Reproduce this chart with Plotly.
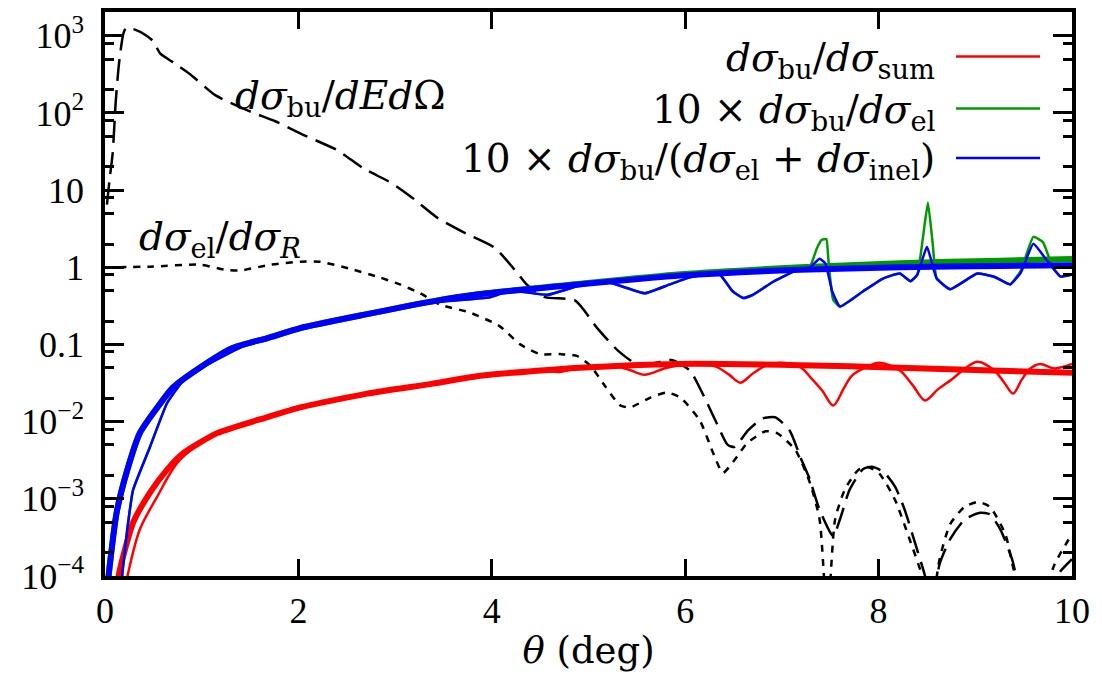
import plotly.graph_objects as go

# ---- breakup cross section dsigma_bu/dE dOmega (dashed) ----
theta_bu = [0.02, 0.05, 0.08, 0.11, 0.145, 0.19, 0.22, 0.31, 0.41, 0.50, 0.57, 0.72, 0.88,
            1.14, 1.48, 1.76, 2.05, 2.40, 2.67, 2.97, 3.17, 3.44, 3.74, 4.03, 4.26, 4.36,
            4.55, 4.86, 5.09, 5.31, 5.53, 5.86, 6.05, 6.18, 6.31, 6.44, 6.51, 6.65, 6.80,
            6.93, 7.08, 7.19, 7.29, 7.39, 7.53, 7.60, 7.70, 7.84, 7.93, 8.05, 8.17, 8.27,
            8.38, 8.48, 8.55, 8.63, 8.74, 8.89, 9.05, 9.15, 9.26, 9.38, 9.46, 9.62, 9.77,
            9.88, 10.0]
dsig_bu = [6.5, 14.7, 30.7, 135, 440, 1070, 1280, 1200, 1040, 850, 590, 440, 318,
           170, 107, 78, 52, 33, 19.2, 12.2, 8.1, 4.36, 2.71, 1.79, 0.855, 0.60,
           0.41, 0.373, 0.163, 0.082, 0.053, 0.063, 0.0457, 0.0231, 0.0105, 0.0050, 0.0047,
           0.0077, 0.0110, 0.0114, 0.0077, 0.0035, 0.00176, 0.00072, 0.00033, 0.00054,
           0.00131, 0.00244, 0.0026, 0.00224, 0.00144, 0.00072, 0.00026, 0.00010, 3.5e-5,
           0.000142, 0.00030, 0.00054, 0.00066, 0.00063, 0.00040, 0.000165, 6.8e-5, 3.0e-5,
           6.8e-5, 0.000115, 0.000165]

# ---- elastic / Rutherford ratio (dotted) ----
theta_el = [0.0, 0.47, 0.98, 1.24, 1.40, 1.71, 2.02, 2.22, 2.53, 2.84, 3.05, 3.26, 3.46,
            3.77, 4.08, 4.29, 4.50, 4.71, 4.88, 5.02, 5.17, 5.33, 5.43, 5.64, 5.81, 5.95,
            6.15, 6.29, 6.39, 6.51, 6.64, 6.83, 6.95, 7.14, 7.29, 7.39, 7.47, 7.55, 7.65,
            7.79, 7.89, 8.01, 8.17, 8.32, 8.45, 8.53, 8.63, 8.74, 8.89, 9.03, 9.15, 9.31,
            9.41, 9.62, 9.82, 10.0]
ratio_el = [1.00, 1.02, 1.08, 0.93, 0.91, 1.08, 1.18, 1.18, 0.96, 0.74, 0.60, 0.46, 0.33,
            0.26, 0.173, 0.101, 0.075, 0.075, 0.071, 0.053, 0.029, 0.0162, 0.0153, 0.0205,
            0.0238, 0.0205, 0.0104, 0.0039, 0.00217, 0.00318, 0.00526, 0.0075, 0.0071,
            0.00428, 0.00161, 0.00054, 2.8e-5, 0.00054, 0.00131, 0.00237, 0.00259, 0.0021,
            0.00097, 0.0003, 0.0001, 2.8e-5, 0.000164, 0.00047, 0.00079, 0.00091, 0.00079,
            0.00035, 0.000106, 2.8e-5, 0.000142, 0.00035]

# ---- dsigma_bu/dsigma_sum (red) ----
theta_sum_s = [0.11, 0.155, 0.29, 0.465, 0.64, 0.81, 1.16, 1.675, 2.02, 2.71, 3.39, 3.88,
               4.91, 5.95, 7.19, 8.22, 9.26, 10.0]
ratio_sum_s = [6e-5, 1.23e-4, 4.9e-4, 1.2e-3, 2.37e-3, 3.9e-3, 7.1e-3, 0.0114, 0.0153,
               0.0231, 0.0311, 0.0394, 0.050, 0.056, 0.054, 0.050, 0.0457, 0.043]
theta_sum = [0.20, 0.24, 0.36, 0.54, 0.745, 0.95, 1.16, 1.675, 2.02, 2.71, 3.39, 3.88, 4.2,
             4.5, 4.7, 4.91, 5.25, 5.42, 5.58, 5.81, 6.05, 6.31, 6.45, 6.57, 6.70, 6.83,
             6.98, 7.19, 7.30, 7.42, 7.53, 7.64, 7.72, 7.86, 8.01, 8.22, 8.35, 8.48, 8.61,
             8.74, 9.02, 9.20, 9.30, 9.39, 9.48, 9.57, 9.67, 9.82, 10.0]
ratio_sum = [6e-5, 1.1e-4, 4e-4, 1.07e-3, 2.9e-3, 4.9e-3, 7.1e-3, 0.0114, 0.0153, 0.0231,
             0.0311, 0.0394, 0.043, 0.046, 0.044, 0.050, 0.053, 0.047, 0.0405, 0.050, 0.056,
             0.052, 0.041, 0.032, 0.042, 0.053, 0.058, 0.051, 0.037, 0.025, 0.0162, 0.027,
             0.039, 0.050, 0.058, 0.046, 0.030, 0.0188, 0.026, 0.034, 0.0598, 0.0457, 0.032,
             0.0231, 0.035, 0.049, 0.056, 0.049, 0.056]

# ---- 10 x dsigma_bu/dsigma_el (green) ----
theta_bel_s = [0.02, 0.05, 0.12, 0.23, 0.36, 0.54, 0.70, 0.98, 1.32, 1.68, 2.02, 2.71,
               3.39, 3.88, 4.91, 5.95, 7.19, 8.22, 9.26, 10.0]
ratio_bel_s = [6e-5, 1.4e-4, 6.6e-4, 2.35e-3, 7.1e-3, 0.0152, 0.0275, 0.050, 0.090, 0.121,
               0.163, 0.247, 0.362, 0.45, 0.61, 0.81, 1.0, 1.13, 1.22, 1.28]
theta_bel = [0.16, 0.18, 0.23, 0.29, 0.465, 0.64, 0.80, 1.0, 1.5, 2.0, 2.7, 3.39, 3.98,
             4.19, 4.58, 4.91, 5.22, 5.58, 5.84, 6.05, 6.20, 6.36, 6.49, 6.60, 6.70, 6.91,
             7.05, 7.19, 7.29, 7.36, 7.41, 7.46, 7.48, 7.53, 7.60, 7.84, 8.05, 8.22, 8.33,
             8.40, 8.46, 8.51, 8.56, 8.60, 8.74, 9.02, 9.20, 9.36, 9.47, 9.60, 9.70, 9.80,
             9.88, 10.0]
ratio_bel = [6e-5, 1.1e-4, 4e-4, 1.3e-3, 4.7e-3, 0.0172, 0.033, 0.050, 0.105, 0.160, 0.245,
             0.35, 0.41, 0.50, 0.44, 0.58, 0.63, 0.46, 0.60, 0.74, 0.80, 0.80, 0.49, 0.40,
             0.44, 0.65, 0.80, 0.96, 1.02, 1.74, 2.26, 2.33, 1.29, 0.38, 0.31, 0.49, 0.72,
             0.83, 0.66, 0.80, 2.5, 6.9, 2.0, 0.72, 0.52, 0.83, 0.75, 0.60, 0.90, 2.48, 2.12,
             1.0, 0.76, 0.81]

# ---- 10 x dsigma_bu/(dsigma_el + dsigma_inel) (blue) ----
theta_tot_s = [0.02, 0.05, 0.12, 0.23, 0.36, 0.54, 0.70, 0.98, 1.32, 1.68, 2.02, 2.71,
               3.39, 3.88, 4.91, 5.95, 7.19, 8.22, 9.26, 10.0]
ratio_tot_s = [6e-5, 1.4e-4, 6.6e-4, 2.35e-3, 7.1e-3, 0.0152, 0.0275, 0.050, 0.090, 0.121,
               0.163, 0.247, 0.362, 0.45, 0.60, 0.78, 0.93, 1.0, 1.04, 1.06]
theta_tot = [0.16, 0.18, 0.23, 0.29, 0.465, 0.64, 0.80, 1.0, 1.5, 2.0, 2.7, 3.39, 3.98,
             4.19, 4.58, 4.91, 5.22, 5.58, 5.84, 6.05, 6.20, 6.36, 6.49, 6.60, 6.70, 6.91,
             7.05, 7.19, 7.29, 7.39, 7.45, 7.52, 7.60, 7.84, 8.05, 8.22, 8.33, 8.40, 8.50,
             8.60, 8.74, 9.02, 9.20, 9.36, 9.47, 9.60, 9.73, 9.88, 10.0]
ratio_tot = [6e-5, 1.1e-4, 4e-4, 1.3e-3, 4.7e-3, 0.0172, 0.033, 0.050, 0.105, 0.160, 0.245,
             0.35, 0.41, 0.50, 0.44, 0.58, 0.63, 0.46, 0.60, 0.74, 0.80, 0.80, 0.49, 0.40,
             0.44, 0.65, 0.80, 0.96, 1.0, 1.29, 1.12, 0.49, 0.31, 0.49, 0.72, 0.83, 0.66,
             0.80, 1.84, 0.72, 0.52, 0.83, 0.75, 0.60, 0.85, 2.02, 1.28, 0.76, 0.81]

# axis ticks
x_ticks = [0, 2, 4, 6, 8, 10]
y_ticks = [1e-4, 1e-3, 1e-2, 0.1, 1, 10, 100, 1000]
y_tick_text = ["10<sup>−4</sup>", "10<sup>−3</sup>", "10<sup>−2</sup>", "0.1", "1", "10",
               "10<sup>2</sup>", "10<sup>3</sup>"]
y_minor = [m * 10.0 ** e for e in range(-4, 4) for m in (2, 5, 8)]

TICK_FONT = "Liberation Serif"
MATH_FONT = "DejaVu Serif"
RED, GREEN, BLUE = "#ff0000", "#009900", "#0000ff"

fig = go.Figure()

fig.add_trace(go.Scatter(x=theta_el, y=ratio_el, mode="lines",
                         line=dict(color="black", width=2.5, dash="7px,7px",
                                   shape="spline", smoothing=0.6)))
fig.add_trace(go.Scatter(x=theta_bu, y=dsig_bu, mode="lines",
                         line=dict(color="black", width=2.5, dash="22px,9px",
                                   shape="spline", smoothing=0.6)))

fig.add_trace(go.Scatter(x=theta_sum_s, y=ratio_sum_s, mode="lines",
                         line=dict(color=RED, width=6, shape="spline", smoothing=0.6)))
fig.add_trace(go.Scatter(x=theta_sum, y=ratio_sum, mode="lines",
                         line=dict(color=RED, width=2.5, shape="spline", smoothing=0.9)))
fig.add_trace(go.Scatter(x=theta_bel_s, y=ratio_bel_s, mode="lines",
                         line=dict(color=GREEN, width=6, shape="spline", smoothing=0.6)))
fig.add_trace(go.Scatter(x=theta_bel, y=ratio_bel, mode="lines",
                         line=dict(color=GREEN, width=2.5, shape="spline", smoothing=0.4)))
fig.add_trace(go.Scatter(x=theta_tot_s, y=ratio_tot_s, mode="lines",
                         line=dict(color=BLUE, width=6, shape="spline", smoothing=0.6)))
fig.add_trace(go.Scatter(x=theta_tot, y=ratio_tot, mode="lines",
                         line=dict(color=BLUE, width=2.5, shape="spline", smoothing=0.4)))

# key in the upper right: label followed by a short line sample
key_rows = [
    ("<i>dσ</i><sub>bu</sub>/<i>dσ</i><sub>sum</sub>", RED, 0.921),
    ("10 × <i>dσ</i><sub>bu</sub>/<i>dσ</i><sub>el</sub>", GREEN, 0.829),
    ("10 × <i>dσ</i><sub>bu</sub>/(<i>dσ</i><sub>el</sub> + <i>dσ</i><sub>inel</sub>)", BLUE, 0.741),
]
annotations = []
shapes = []
for label, color, yk in key_rows:
    annotations.append(dict(text=label, xref="paper", yref="paper", x=0.860, y=yk - 0.006,
                            xanchor="right", yanchor="middle", showarrow=False,
                            font=dict(family=MATH_FONT, size=39, color="black")))
    shapes.append(dict(type="line", xref="paper", yref="paper", x0=0.880, x1=0.967,
                       y0=yk, y1=yk, line=dict(color=color, width=2.5)))

annotations.append(dict(text="<i>dσ</i><sub>bu</sub>/<i>dEd</i>Ω", xref="paper", yref="paper",
                        x=0.132, y=0.847, xanchor="left", yanchor="middle", showarrow=False,
                        font=dict(family=MATH_FONT, size=39, color="black")))
annotations.append(dict(text="<i>dσ</i><sub>el</sub>/<i>dσ</i><sub><i>R</i></sub>",
                        xref="paper", yref="paper", x=0.033, y=0.598, xanchor="left",
                        yanchor="middle", showarrow=False,
                        font=dict(family=MATH_FONT, size=39, color="black")))

fig.update_layout(
    width=1102, height=682,
    margin=dict(l=105, r=30, t=8, b=106),
    paper_bgcolor="white", plot_bgcolor="white",
    showlegend=False,
    font=dict(family=TICK_FONT, size=36, color="black"),
    annotations=annotations,
    shapes=shapes,
    xaxis=dict(range=[0, 10], tickvals=x_ticks, ticks="inside", ticklen=17, tickwidth=3,
               tickcolor="black", showline=True, linecolor="black", linewidth=3.5,
               mirror="allticks", showgrid=False, zeroline=False,
               tickfont=dict(family=TICK_FONT, size=36),
               title=dict(text="<i>θ</i> (deg)", font=dict(family=MATH_FONT, size=37),
                          standoff=8)),
    yaxis=dict(type="log", range=[-4, 3.308], tickvals=y_ticks, ticktext=y_tick_text,
               ticks="inside", ticklen=19, tickwidth=3, tickcolor="black",
               showline=True, linecolor="black", linewidth=3.5, mirror="allticks",
               showgrid=False, zeroline=False, tickfont=dict(family=TICK_FONT, size=36),
               ticklabelstandoff=10,
               minor=dict(tickvals=y_minor, ticks="inside", ticklen=9, tickwidth=3,
                          tickcolor="black", showgrid=False)),
)

fig.write_html("out.html")
